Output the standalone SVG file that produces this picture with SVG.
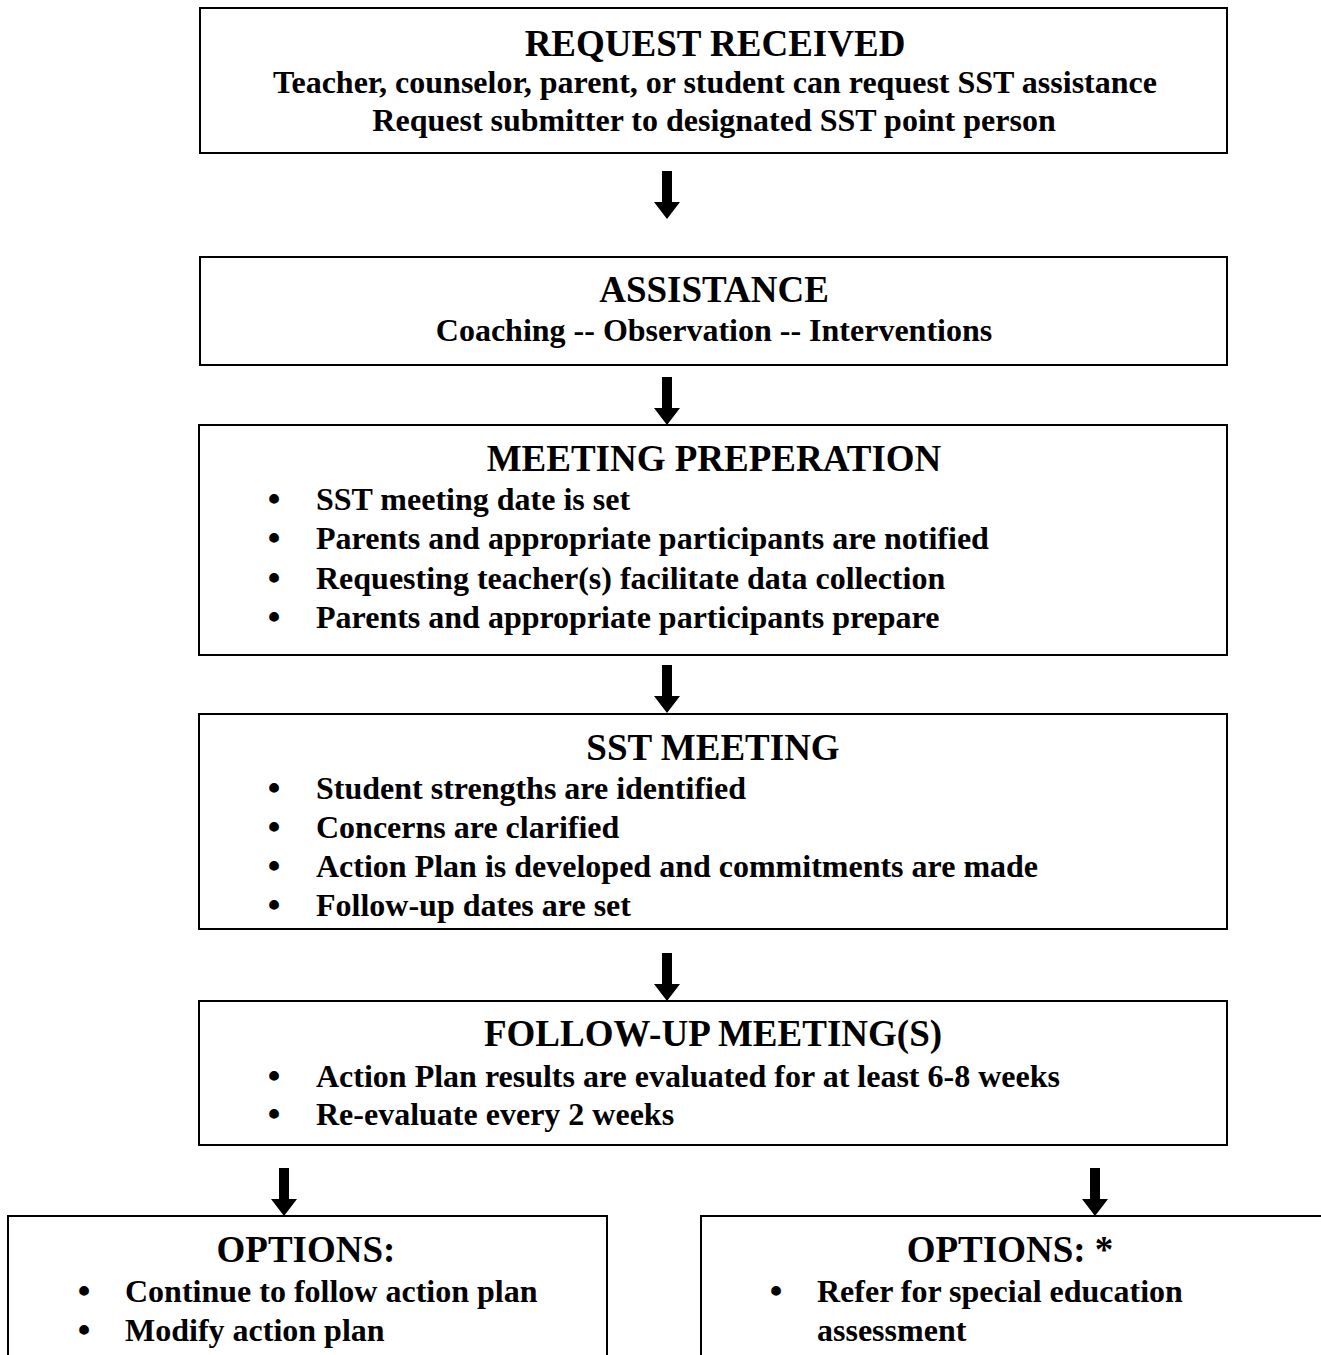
<svg xmlns="http://www.w3.org/2000/svg" width="1321" height="1355" viewBox="0 0 1321 1355">
<style>
.box{fill:#fff;stroke:#000;stroke-width:2}
.t{font-family:"Liberation Serif","Times New Roman",serif;font-weight:bold;fill:#000}
.h{font-size:37px;text-anchor:middle}
.b{font-size:32px}
.c{text-anchor:middle}
.d{font-size:36px;text-anchor:middle}
</style>
<defs>
<path id="arr" d="M-5,0 H5 V31 H13 L0,48 L-13,31 H-5 Z" fill="#000"/>
</defs>
<rect width="1321" height="1355" fill="#fff"/>
<g id="connectors">
<use href="#arr" x="667" y="171"/>
<use href="#arr" x="667" y="377"/>
<use href="#arr" x="667" y="665"/>
<use href="#arr" x="667" y="953"/>
<use href="#arr" x="284" y="1168"/>
<use href="#arr" x="1095" y="1168"/>
</g>
<g id="request">
<rect class="box" x="200" y="8" width="1027" height="145"/>
<text class="t h" x="715" y="56">REQUEST RECEIVED</text>
<text class="t b c" x="715" y="93">Teacher, counselor, parent, or student can request SST assistance</text>
<text class="t b c" x="714" y="131">Request submitter to designated SST point person</text>
</g>
<g id="assistance">
<rect class="box" x="200" y="257" width="1027" height="108"/>
<text class="t h" x="714" y="302">ASSISTANCE</text>
<text class="t b c" x="714" y="341">Coaching -- Observation -- Interventions</text>
</g>
<g id="prep">
<rect class="box" x="199" y="425" width="1028" height="230"/>
<text class="t h" x="714" y="471">MEETING PREPERATION</text>
<text class="t d" x="274" y="511">•</text><text class="t b" x="316" y="510">SST meeting date is set</text>
<text class="t d" x="274" y="550">•</text><text class="t b" x="316" y="549">Parents and appropriate participants are notified</text>
<text class="t d" x="274" y="590">•</text><text class="t b" x="316" y="589">Requesting teacher(s) facilitate data collection</text>
<text class="t d" x="274" y="629">•</text><text class="t b" x="316" y="628">Parents and appropriate participants prepare</text>
</g>
<g id="sst">
<rect class="box" x="199" y="714" width="1028" height="215"/>
<text class="t h" x="713" y="760">SST MEETING</text>
<text class="t d" x="274" y="800">•</text><text class="t b" x="316" y="799">Student strengths are identified</text>
<text class="t d" x="274" y="839">•</text><text class="t b" x="316" y="838">Concerns are clarified</text>
<text class="t d" x="274" y="878">•</text><text class="t b" x="316" y="877">Action Plan is developed and commitments are made</text>
<text class="t d" x="274" y="917">•</text><text class="t b" x="316" y="916">Follow-up dates are set</text>
</g>
<g id="followup">
<rect class="box" x="199" y="1001" width="1028" height="144"/>
<text class="t h" x="713" y="1046">FOLLOW-UP MEETING(S)</text>
<text class="t d" x="274" y="1088">•</text><text class="t b" x="316" y="1087">Action Plan results are evaluated for at least 6-8 weeks</text>
<text class="t d" x="274" y="1126">•</text><text class="t b" x="316" y="1125">Re-evaluate every 2 weeks</text>
</g>
<g id="options1">
<rect class="box" x="8" y="1216" width="599" height="150"/>
<text class="t h" x="306" y="1262">OPTIONS:</text>
<text class="t d" x="84" y="1303">•</text><text class="t b" x="125" y="1302">Continue to follow action plan</text>
<text class="t d" x="84" y="1342">•</text><text class="t b" x="125" y="1341">Modify action plan</text>
</g>
<g id="options2">
<rect class="box" x="701" y="1216" width="630" height="150"/>
<text class="t h" x="1010" y="1262">OPTIONS: *</text>
<text class="t d" x="776" y="1303">•</text><text class="t b" x="817" y="1302">Refer for special education</text>
<text class="t b" x="817" y="1341">assessment</text>
</g>
</svg>
